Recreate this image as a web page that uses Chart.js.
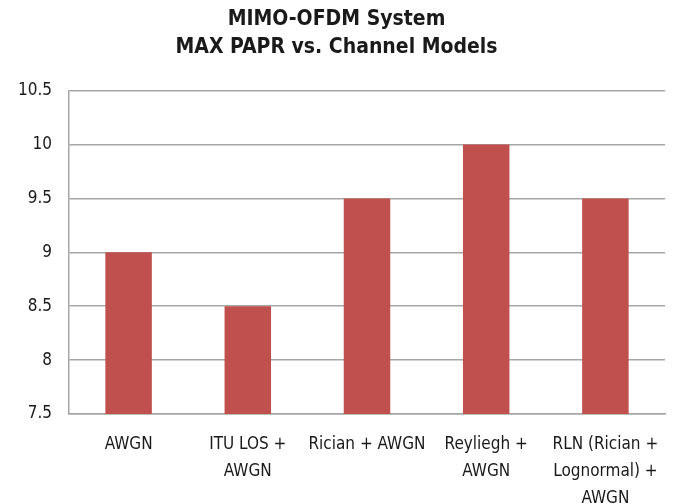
<!DOCTYPE html>
<html>
<head>
<meta charset="utf-8">
<script src="https://cdn.jsdelivr.net/npm/chart.js@4"></script>
<style>
  html, body { margin: 0; padding: 0; background: #fff; }
  #wrap { width: 673px; height: 504px; }
</style>
</head>
<body>
<div id="wrap"><canvas id="c" width="673" height="504"></canvas></div>
<script>
const titleLines = ["MIMO-OFDM System", "MAX PAPR vs. Channel Models"];
const categories = [
  ["AWGN"],
  ["ITU LOS +", "AWGN"],
  ["Rician + AWGN"],
  ["Reyliegh +", "AWGN"],
  ["RLN (Rician +", "Lognormal) +", "AWGN"]
];
const maxPapr = [9, 8.5, 9.5, 10, 9.5];
const yTicks = [7.5, 8, 8.5, 9, 9.5, 10, 10.5];

const FONT = "'Liberation Sans Narrow', 'DejaVu Sans Condensed', 'Liberation Sans', sans-serif";

new Chart(document.getElementById('c'), {
  type: 'bar',
  data: {
    labels: categories,
    datasets: [{
      label: 'MAX PAPR',
      data: maxPapr,
      backgroundColor: '#C0504D',
      borderWidth: 0,
      barPercentage: 0.39,
      categoryPercentage: 1.0
    }]
  },
  options: {
    responsive: false,
    animation: false,
    devicePixelRatio: 1,
    layout: { padding: { top: 0, right: 0, bottom: 0, left: 0 } },
    plugins: {
      legend: { display: false },
      tooltip: { enabled: false },
      title: {
        display: true,
        text: titleLines,
        color: '#1a1a1a',
        font: { family: FONT, size: 21, weight: 'bold', lineHeight: 1.35 },
        padding: { top: 5, bottom: 29 }
      }
    },
    scales: {
      x: {
        grid: { display: false, drawTicks: false },
        border: { display: true, color: '#A6A6A6', width: 1.5 },
        ticks: {
          color: '#1a1a1a',
          font: { family: FONT, size: 17, lineHeight: 1.6 },
          padding: 17,
          maxRotation: 0,
          autoSkip: false
        },
        afterFit: (s) => { s.height = 90; s.paddingRight = 8; }
      },
      y: {
        min: 7.5,
        max: 10.5,
        afterBuildTicks: (s) => { s.ticks = yTicks.map(v => ({ value: v })); },
        grid: { color: '#A6A6A6', lineWidth: 1.5, drawTicks: false },
        border: { display: true, color: '#A6A6A6', width: 1.5 },
        ticks: {
          color: '#1a1a1a',
          font: { family: FONT, size: 17 },
          padding: 17,
          callback: (v) => String(v)
        },
        afterFit: (s) => { s.width = 69; }
      }
    }
  }
});
</script>
</body>
</html>
